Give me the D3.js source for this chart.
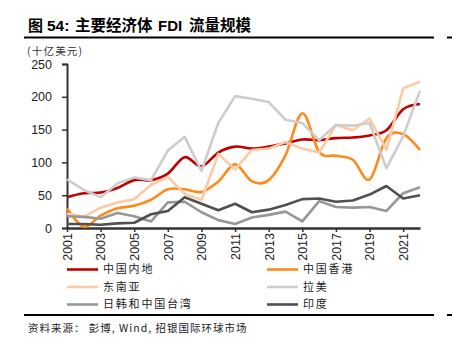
<!DOCTYPE html>
<html>
<head>
<meta charset="utf-8">
<script src="https://cdn.jsdelivr.net/npm/d3@7"></script>
<style>
html,body{margin:0;padding:0;background:#fff;}
svg{display:block;}
</style>
</head>
<body>
<svg id="chart" width="452" height="355"></svg>
<script>
const years = [2001,2002,2003,2004,2005,2006,2007,2008,2009,2010,2011,2012,2013,2014,2015,2016,2017,2018,2019,2020,2021,2022];
const mainland = [47,53,54,61,73,73,83,108,94,115,124,121,124,129,135,134,137,138,141,149,181,189];
const hongkong = [30,2,19,30,34,43,59,59,55,71,97,71,73,111,175,116,110,104,74,137,143,119];
const seAsia = [22,17,31,39,44,66,78,52,43,113,89,119,121,131,121,115,157,149,167,119,213,223];
const latam = [74,58,47,68,77,73,118,139,87,160,201,197,192,165,160,134,157,156,160,91,140,209];
const jkt = [18,17,14,23,18,10,39,40,24,12,6,16,20,25,10,41,32,31,32,26,53,62];
const india = [6,6,5,7,8,21,26,47,37,27,37,24,28,35,44,45,40,42,51,64,45,50];
const yTicks = [0,50,100,150,200,250];
const xTicks = [2001,2003,2005,2007,2009,2011,2013,2015,2017,2019,2021];
const seriesNames = ["中国内地","中国香港","东南亚","拉美","日韩和中国台湾","印度"];
const titleParts = ["图","54:","主要经济体","FDI","流量规模"];
const unitLabel = "(十亿美元)";
const sourceText = "资料来源： 彭博, Wind, 招银国际环球市场";

const series = [
  {name: seriesNames[0], values: mainland, color: "#C00000", smooth: true},
  {name: seriesNames[1], values: hongkong, color: "#FF8A1C", smooth: true},
  {name: seriesNames[2], values: seAsia, color: "#FBCBA5", smooth: false},
  {name: seriesNames[3], values: latam, color: "#CDCDCD", smooth: false},
  {name: seriesNames[4], values: jkt, color: "#979797", smooth: false},
  {name: seriesNames[5], values: india, color: "#505050", smooth: false}
];

const svg = d3.select("#chart");
const latin = "Liberation Sans, Arial, sans-serif";
const cjk = "'Noto Sans CJK SC', sans-serif";

// Title
const title = svg.append("text").attr("y", 31).attr("fill", "#000");
title.append("tspan").attr("x", 28).attr("font-family", cjk).attr("font-size", 15).attr("font-weight", 600).text(titleParts[0]);
title.append("tspan").attr("x", 47).attr("font-family", latin).attr("font-size", 15.5).attr("font-weight", 700).text(titleParts[1]);
title.append("tspan").attr("x", 75).attr("font-family", cjk).attr("font-size", 15.5).attr("font-weight", 600).text(titleParts[2]);
title.append("tspan").attr("x", 158).attr("font-family", latin).attr("font-size", 15).attr("font-weight", 700).text(titleParts[3]);
title.append("tspan").attr("x", 189).attr("font-family", cjk).attr("font-size", 15.5).attr("font-weight", 600).text(titleParts[4]);

// Rules
svg.append("line").attr("x1", 24).attr("x2", 434).attr("y1", 37.5).attr("y2", 37.5).attr("stroke", "#000").attr("stroke-width", 2);
svg.append("line").attr("x1", 447).attr("x2", 452).attr("y1", 37.5).attr("y2", 37.5).attr("stroke", "#000").attr("stroke-width", 2);
svg.append("line").attr("x1", 24).attr("x2", 434).attr("y1", 315).attr("y2", 315).attr("stroke", "#000").attr("stroke-width", 2);
svg.append("line").attr("x1", 447).attr("x2", 452).attr("y1", 315).attr("y2", 315).attr("stroke", "#000").attr("stroke-width", 2);

// Unit
svg.append("text").attr("x", 27).attr("y", 55).attr("font-family", cjk).attr("font-size", 10.5)
  .attr("letter-spacing", 1.2).attr("fill", "#333").text(unitLabel);

// Scales
const x = d3.scaleLinear().domain([2001, 2022]).range([67, 420]);
const y = d3.scaleLinear().domain([0, 250]).range([228, 64]);

// Y axis
const yAxis = svg.append("g").attr("transform", "translate(67,0)")
  .call(d3.axisLeft(y).tickValues(yTicks).tickSize(5).tickPadding(10).tickFormat(d3.format("d")));
yAxis.select(".domain").attr("stroke", "#333").attr("stroke-width", 2);
yAxis.selectAll(".tick line").attr("stroke", "#333").attr("stroke-width", 1.5);
yAxis.selectAll(".tick text").attr("font-family", latin).attr("font-size", 12.5).attr("fill", "#222");

// X axis
const xAxis = svg.append("g").attr("transform", "translate(0,228)")
  .call(d3.axisBottom(x).tickValues(xTicks).tickSize(4).tickSizeOuter(0).tickFormat(d3.format("d")));
xAxis.select(".domain").attr("stroke", "#333").attr("stroke-width", 2.5);
xAxis.selectAll(".tick line").attr("stroke", "#333").attr("stroke-width", 1.5);
xAxis.selectAll(".tick text")
  .attr("font-family", latin).attr("font-size", 12.5).attr("fill", "#222")
  .attr("text-anchor", "end").attr("transform", "rotate(-90)")
  .attr("x", -5).attr("y", 0).attr("dy", "0.35em");

// Lines
const plot = svg.append("g");
series.forEach(s => {
  const line = d3.line()
    .x((d, i) => x(years[i]))
    .y(d => y(d))
    .curve(s.smooth ? d3.curveCatmullRom.alpha(0) : d3.curveLinear);
  plot.append("path").datum(s.values)
    .attr("d", line).attr("fill", "none").attr("stroke", s.color)
    .attr("stroke-width", 2.6).attr("stroke-linejoin", "round").attr("stroke-linecap", "butt");
});

// Legend
const legend = svg.append("g");
series.forEach((s, i) => {
  const col = i % 2, row = Math.floor(i / 2);
  const lx = col === 0 ? 67 : 267;
  const ly = 269.5 + row * 17.5;
  legend.append("line").attr("x1", lx).attr("x2", lx + 31).attr("y1", ly).attr("y2", ly)
    .attr("stroke", s.color).attr("stroke-width", 2.6);
  legend.append("text").attr("x", lx + 36).attr("y", ly).attr("dy", "0.36em")
    .attr("font-family", cjk).attr("font-size", 11).attr("letter-spacing", 1.8)
    .attr("fill", "#222").text(s.name);
});

// Source
svg.append("text").attr("x", 28).attr("y", 331.5).attr("font-family", cjk).attr("font-size", 10.5)
  .attr("letter-spacing", 1).attr("fill", "#222").text(sourceText);
</script>
</body>
</html>
